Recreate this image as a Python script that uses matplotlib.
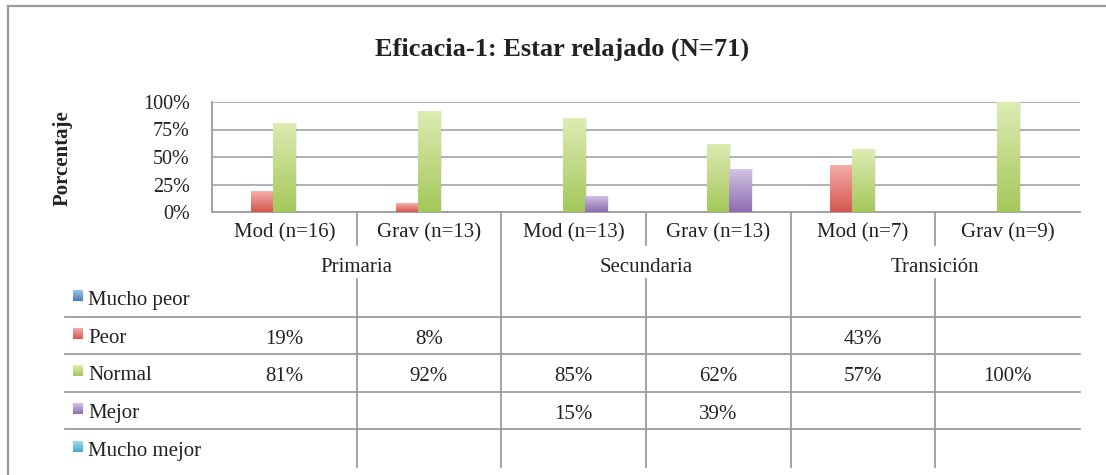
import numpy as np
import matplotlib
matplotlib.use("Agg")
import matplotlib.pyplot as plt
from matplotlib.transforms import blended_transform_factory
from matplotlib.colors import LinearSegmentedColormap
from matplotlib.patches import Rectangle
from matplotlib.lines import Line2D

# ---------------- data ----------------
title = "Eficacia-1: Estar relajado (N=71)"
ylabel = "Porcentaje"
categories = ["Mod (n=16)", "Grav (n=13)", "Mod (n=13)", "Grav (n=13)", "Mod (n=7)", "Grav (n=9)"]
groups = ["Primaria", "Secundaria", "Transición"]
series_names = ["Mucho peor", "Peor", "Normal", "Mejor", "Mucho mejor"]
mucho_peor = [np.nan, np.nan, np.nan, np.nan, np.nan, np.nan]
peor = [19, 8, np.nan, np.nan, 43, np.nan]
normal = [81, 92, 85, 62, 57, 100]
mejor = [np.nan, np.nan, 15, 39, np.nan, np.nan]
mucho_mejor = [np.nan, np.nan, np.nan, np.nan, np.nan, np.nan]
yticks = [0, 25, 50, 75, 100]
ytick_labels = ["0%", "25%", "50%", "75%", "100%"]

series_values = [mucho_peor, peor, normal, mejor, mucho_mejor]
# (top colour, bottom colour) of each series gradient
series_colors = [("#A3C0E4", "#4A7EBB"),
                 ("#F6AEAC", "#D4564F"),
                 ("#DEEBB3", "#A3C85A"),
                 ("#D3C3E3", "#8C6DB0"),
                 ("#A3DCEA", "#45A9C4")]

plt.rcParams['font.family'] = ['Liberation Serif', 'DejaVu Serif']
GRID = "#9c9c9c"
TXT = "#222222"

W, H = 1106, 475
fig = plt.figure(figsize=(W / 100, H / 100), dpi=100)

def fy(y):
    return 1 - y / H

def fx(x):
    return x / W

ax = fig.add_axes([fx(212), fy(212), (1080 - 212) / W, 110 / H])
ax.set_facecolor("white")

n_cat = len(categories)
n_ser = len(series_names)
x = np.arange(n_cat)
bw = 1 / (n_ser + 1.5)

grad = np.linspace(0, 1, 256).reshape(-1, 1)
for i, (vals, (ctop, cbot)) in enumerate(zip(series_values, series_colors)):
    cmap = LinearSegmentedColormap.from_list(f"s{i}", [cbot, ctop])
    offs = (i - (n_ser - 1) / 2) * bw
    v = np.nan_to_num(np.array(vals, dtype=float))
    bars = ax.bar(x + offs, v, bw, color=ctop, zorder=3, linewidth=0)
    for b, val in zip(bars, v):
        if val <= 0:
            continue
        x0 = b.get_x()
        # soft shadow
        sh = Rectangle((x0 + 0.012, 0), bw, val, color="black", alpha=0.07,
                       zorder=2.5, linewidth=0)
        ax.add_patch(sh)
        im = ax.imshow(grad, extent=[x0, x0 + bw, 0, val], origin="lower",
                       aspect="auto", cmap=cmap, zorder=3.5, interpolation="bicubic")
        im.set_clip_path(b)

ax.set_xlim(-0.5, n_cat - 0.5)
ax.set_ylim(0, 100)
ax.set_yticks(yticks)
ax.set_yticklabels(ytick_labels, fontsize=14.5, color=TXT)
ax.yaxis.grid(True, color=GRID, linewidth=1.1, zorder=0)
ax.set_axisbelow(True)
ax.tick_params(axis="y", length=0, pad=16)
ax.set_xticks(x)
ax.set_xticklabels(categories, fontsize=15, color=TXT)
ax.tick_params(axis="x", length=0, pad=8)
for s in ["top", "right"]:
    ax.spines[s].set_visible(False)
for s in ["left", "bottom"]:
    ax.spines[s].set_color(GRID)
    ax.spines[s].set_linewidth(1.3)

# title and y label
fig.text(fx(562), fy(49), title, fontsize=19, fontweight="bold", ha="center",
         va="center", color=TXT)
fig.text(fx(63), fy(158), ylabel, fontsize=15, fontweight="bold", rotation=90,
         ha="center", va="center", color=TXT)

# ---- data table below axis ----
bt = blended_transform_factory(ax.transData, fig.transFigure)

# group labels
for g, name in enumerate(groups):
    fig.text(0, fy(267), name, transform=bt, fontsize=15, ha="center", va="center",
             color=TXT).set_x(2 * g + 0.5)

# vertical separators
for k in range(n_cat - 1):
    xb = k + 0.5
    if k % 2 == 1:
        fig.add_artist(Line2D([xb, xb], [fy(212), fy(467)], transform=bt,
                              color=GRID, linewidth=1.3))
    else:
        fig.add_artist(Line2D([xb, xb], [fy(212), fy(245)], transform=bt,
                              color=GRID, linewidth=1.3))
        fig.add_artist(Line2D([xb, xb], [fy(279), fy(467)], transform=bt,
                              color=GRID, linewidth=1.3))

# horizontal row lines
row_lines = [316.7, 354.2, 391.7, 429.3]
for yl in row_lines:
    fig.add_artist(Line2D([fx(65), fx(1080)], [fy(yl), fy(yl)],
                          transform=fig.transFigure, color=GRID, linewidth=1.3))

row_h = 37.55
row_centers = [row_lines[0] - row_h / 2] + [yl + row_h / 2 for yl in row_lines]
for r, (name, vals, (ctop, cbot)) in enumerate(zip(series_names, series_values, series_colors)):
    yc = row_centers[r]
    # legend key with gradient
    kax = fig.add_axes([fx(73), fy(yc + 3.5), 10 / W, 11 / H])
    kcmap = LinearSegmentedColormap.from_list(f"k{r}", [cbot, ctop])
    kax.imshow(grad, origin="lower", aspect="auto", cmap=kcmap)
    kax.axis("off")
    fig.text(fx(88), fy(yc + 7.5), name, fontsize=15, ha="left", va="baseline",
             color=TXT)
    for c, val in enumerate(vals):
        if np.isnan(val):
            continue
        t = fig.text(0, fy(yc + 8.5), f"{val:.0f}%", transform=bt, fontsize=15,
                     ha="center", va="baseline", color=TXT)
        t.set_x(c)

# outer frame
fig.add_artist(Line2D([fx(8.3), fx(1106)], [fy(6), fy(6)], transform=fig.transFigure,
                      color="#999999", linewidth=1.6))
fig.add_artist(Line2D([fx(8.3), fx(8.3)], [fy(6), fy(475)], transform=fig.transFigure,
                      color="#999999", linewidth=1.6))

fig.savefig("out.png", dpi=100, facecolor="white")
